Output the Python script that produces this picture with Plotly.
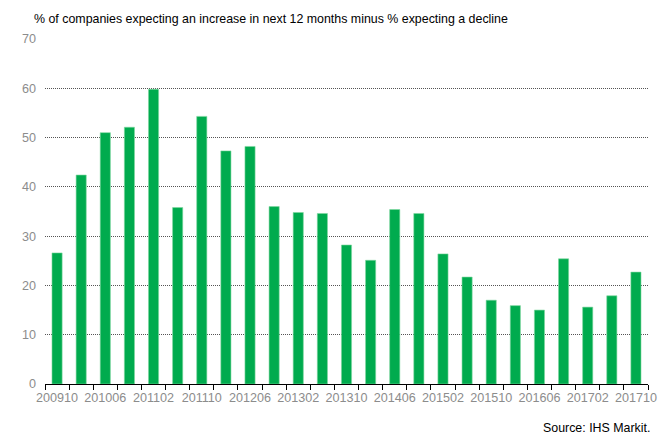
import plotly.graph_objects as go

categories = ["200910", "201002", "201006", "201010", "201102", "201106", "201110",
              "201202", "201206", "201210", "201302", "201306", "201310", "201402",
              "201406", "201410", "201502", "201506", "201510", "201602", "201606",
              "201610", "201702", "201706", "201710"]
values = [26.6, 42.4, 51.0, 52.1, 59.8, 35.8, 54.3, 47.3, 48.2, 36.0, 34.8, 34.6,
          28.2, 25.1, 35.4, 34.6, 26.4, 21.7, 17.0, 15.9, 15.0, 25.4, 15.6, 17.9, 22.7]
tick_labels = [c if i % 2 == 0 else "" for i, c in enumerate(categories)]
y_ticks = [0, 10, 20, 30, 40, 50, 60, 70]

title_text = "% of companies expecting an increase in next 12 months minus % expecting a decline"
source_text = "Source: IHS Markit."

fig = go.Figure()
fig.add_trace(go.Bar(
    x=categories, y=values,
    marker=dict(color="#00AB4E", line=dict(color="#7FD6A0", width=0.6)),
    hoverinfo="x+y",
))

fig.update_layout(
    width=668, height=434,
    margin=dict(l=45, r=20, t=39, b=50),
    paper_bgcolor="white", plot_bgcolor="white",
    bargap=0.58,
    showlegend=False,
    font=dict(family="Liberation Sans, Arial, sans-serif", size=12.4, color="#000"),
    xaxis=dict(
        type="category",
        categoryorder="array", categoryarray=categories,
        tickmode="array", tickvals=categories, ticktext=tick_labels,
        tickson="boundaries", tickangle=0, automargin=False,
        ticks="outside", ticklen=5, tickcolor="#000", tickwidth=1,
        ticklabelstandoff=2,
        showline=True, linecolor="#000", linewidth=1,
        showgrid=False,
        tickfont=dict(size=12.6, color="#8C8C8C"),
        range=[-0.5, len(categories) - 0.5],
    ),
    yaxis=dict(
        range=[0, 70], automargin=False,
        tickmode="array", tickvals=y_ticks,
        showgrid=True, gridcolor="#555", gridwidth=1, griddash="1px,1px",
        zeroline=False, showline=False, ticks="",
        ticklabelstandoff=8,
        tickfont=dict(size=12.6, color="#8C8C8C"),
    ),
    annotations=[
        dict(text=title_text, xref="paper", yref="paper", x=0, y=1,
             xanchor="left", yanchor="middle", xshift=-13, yshift=20,
             showarrow=False, font=dict(size=12.4, color="#000")),
        dict(text=source_text, xref="paper", yref="paper", x=1, y=0,
             xanchor="right", yanchor="middle", xshift=4, yshift=-44,
             showarrow=False, font=dict(size=12.4, color="#000")),
    ],
)

fig.write_html("out.html")
